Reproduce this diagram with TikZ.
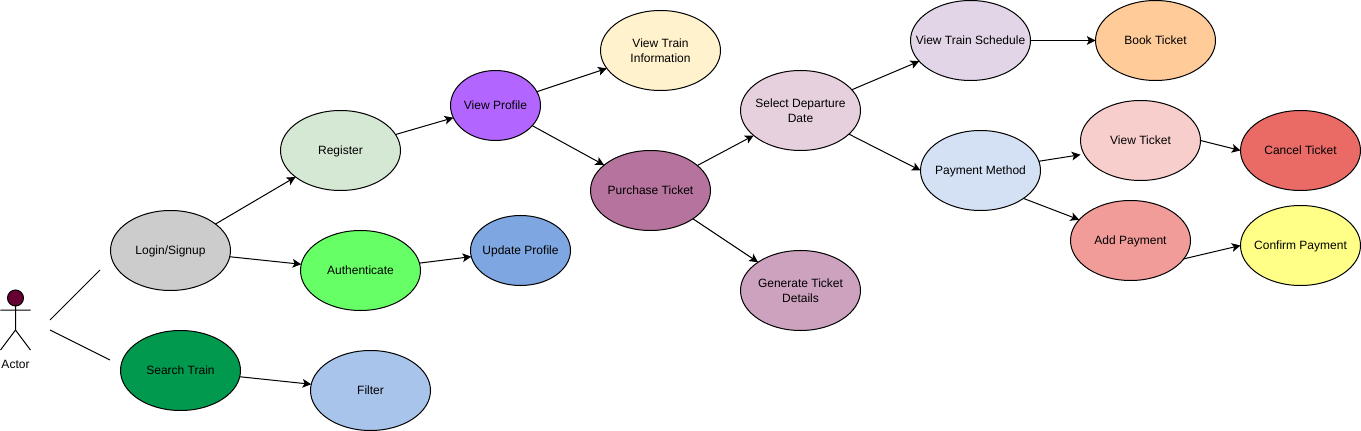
\documentclass[tikz,border=0pt]{standalone}
\usepackage{fontspec}
\setmainfont{Liberation Sans}
\usetikzlibrary{shapes.geometric,arrows.meta}
\definecolor{cLogin}{HTML}{CCCCCC}
\definecolor{cRegister}{HTML}{D5E8D4}
\definecolor{cAuth}{HTML}{66FF66}
\definecolor{cProfile}{HTML}{B266FF}
\definecolor{cUpdate}{HTML}{7EA6E0}
\definecolor{cInfo}{HTML}{FFF2CC}
\definecolor{cPurchase}{HTML}{B5739D}
\definecolor{cSelect}{HTML}{E6D0DE}
\definecolor{cGenerate}{HTML}{CDA2BE}
\definecolor{cSchedule}{HTML}{E1D5E7}
\definecolor{cBook}{HTML}{FFCC99}
\definecolor{cPayment}{HTML}{D4E1F5}
\definecolor{cView}{HTML}{F8CECC}
\definecolor{cCancel}{HTML}{EA6B66}
\definecolor{cAdd}{HTML}{F19C99}
\definecolor{cConfirm}{HTML}{FFFF88}
\definecolor{cSearch}{HTML}{00994D}
\definecolor{cFilter}{HTML}{A9C4EB}
\definecolor{cHead}{HTML}{660033}
\newcommand{\ctext}[1]{\makebox[0pt][c]{\raisebox{-0.6pt}[7pt][2pt]{#1}}}
\tikzset{
  usecase/.style={ellipse,draw=black,line width=0.75pt,minimum width=90pt,minimum height=60pt,inner sep=0pt,outer sep=0pt,align=center,font=\fontsize{9}{11.25}\selectfont,text=black},
  smallcase/.style={usecase,minimum width=#1,minimum height=52.5pt},
  link/.style={draw=black,line width=0.75pt,-{Stealth[length=6.5pt,width=6.5pt,inset=1.5pt]}},
  plain/.style={draw=black,line width=0.75pt},
  stick/.style={draw=black,line width=0.75pt},
}
\begin{document}
\begin{tikzpicture}[x=0.75pt,y=-0.75pt]
\useasboundingbox (0,0) rectangle (1361,431);
% actor
\node[circle,draw=black,fill=cHead,line width=0.75pt,minimum size=12pt,inner sep=0pt,outer sep=0pt] (head) at (15.5,298) {};
\coordinate (hip) at (15.5,330);
\coordinate (armL) at (0.5,310);
\coordinate (armR) at (30.5,310);
\coordinate (legL) at (0.5,350);
\coordinate (legR) at (30.5,350);
\draw[stick] (head.south) -- (hip) (armL) -- (armR) (legL) -- (hip) -- (legR);
\node[font=\fontsize{9}{11.25}\selectfont,inner sep=0pt] (actor) at (15.5,364.5) {Actor};
\coordinate (a1) at (50,320);
\coordinate (a2) at (100,270);
\coordinate (b1) at (50,330);
\coordinate (b2) at (110,360);
\draw[plain] (a1) -- (a2);
\draw[plain] (b1) -- (b2);
% use cases
\node[usecase,fill=cLogin] (login) at (170.5,250.5) {\ctext{Login/Signup}};
\node[usecase,fill=cRegister] (register) at (340.5,150.5) {\ctext{Register}};
\node[usecase,fill=cAuth] (auth) at (360.5,270.5) {\ctext{Authenticate}};
\node[smallcase=67.5pt,fill=cProfile] (profile) at (495.5,105.5) {\ctext{View Profile}};
\node[smallcase=75pt,fill=cUpdate] (update) at (520.5,250.5) {\ctext{Update Profile}};
\node[usecase,fill=cInfo] (info) at (660.5,50.5) {\ctext{View Train}\\\ctext{Information}};
\node[usecase,fill=cPurchase] (purchase) at (650.5,190.5) {\ctext{Purchase Ticket}};
\node[usecase,fill=cSelect] (select) at (800.5,110.5) {\ctext{Select Departure}\\\ctext{Date}};
\node[usecase,fill=cGenerate] (generate) at (800.5,290.5) {\ctext{Generate Ticket}\\\ctext{Details}};
\node[usecase,fill=cSchedule] (schedule) at (970.5,40.5) {\ctext{View Train Schedule}};
\node[usecase,fill=cBook] (book) at (1155.5,40.5) {\ctext{Book Ticket}};
\node[usecase,fill=cPayment] (payment) at (980.5,170.5) {\ctext{Payment Method}};
\node[usecase,fill=cView] (view) at (1140.5,140.5) {\ctext{View Ticket}};
\node[usecase,fill=cCancel] (cancel) at (1300.5,150.5) {\ctext{Cancel Ticket}};
\node[usecase,fill=cAdd] (add) at (1130.5,240.5) {\ctext{Add Payment}};
\node[usecase,fill=cConfirm] (confirm) at (1300.5,245.5) {\ctext{Confirm Payment}};
\node[usecase,fill=cSearch] (search) at (180.5,370.5) {\ctext{Search Train}};
\node[usecase,fill=cFilter] (filter) at (370.5,390.5) {\ctext{Filter}};
% connectors
\draw[link] (login) -- (register);
\draw[link] (login) -- (auth);
\draw[link] (register) -- (profile);
\draw[link] (auth) -- (update);
\draw[link] (profile) -- (info);
\draw[link] (profile) -- (purchase);
\draw[link] (purchase) -- (select);
\draw[link] (purchase) -- (generate);
\draw[link] (select.22.4) -- (schedule.202.5);
\draw[link] (select.-26.7) -- (payment.west);
\draw[link] (schedule.east) -- (book.west);
\draw[link] (payment.9.5) -- ([yshift=-10.65pt]view.west);
\draw[link] (payment.-33.2) -- (add.158.9);
\draw[link] (view.east) -- (cancel.west);
\draw[link] (add.-19.1) -- (confirm.west);
\draw[link] (search) -- (filter);
\end{tikzpicture}
\end{document}
